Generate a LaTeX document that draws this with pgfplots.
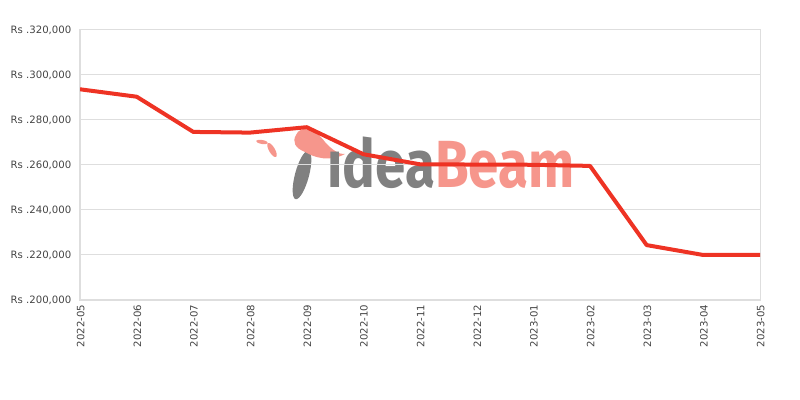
\documentclass[border=0pt]{standalone}
\usepackage{fontspec}
\setmainfont{DejaVu Sans}
\newfontfamily\logofont{Fira Sans}
\usepackage{pgfplots}
\pgfplotsset{compat=1.18}
\definecolor{linered}{RGB}{238,51,36}
\definecolor{gridgray}{RGB}{222,222,222}
\definecolor{txtgray}{RGB}{68,68,68}
\definecolor{logogray}{RGB}{128,128,128}
\definecolor{logopink}{RGB}{246,150,140}
\begin{document}
\begin{tikzpicture}[x=0.75pt,y=0.75pt]
\useasboundingbox (0,0) rectangle (800,400);
% watermark
\fill[logogray, rotate around={-15:(302,225)}] (302,225) ellipse (7 and 25);
\fill[logopink] (296,265) .. controls (300,275) and (315,272) .. (325,258)
   .. controls (332,250) and (340,245) .. (345,246) .. controls (330,238) and (315,242) .. (305,248)
   .. controls (295,252) and (292,258) .. (296,265) -- cycle;
\fill[logopink, rotate around={30:(272,250)}] (272,250) ellipse (3 and 8);
\fill[logopink, rotate around={80:(262,258)}] (262,258) ellipse (2 and 6);
\node[anchor=base west, inner sep=0pt, xscale=0.82] at (327,212)
  {\fontsize{50pt}{50pt}\selectfont\logofont\bfseries\textcolor{logogray}{\i dea}\textcolor{logopink}{Beam}};
\begin{axis}[
  at={(60pt,75pt)}, anchor=south west,
  scale only axis, width=510pt, height=202.5pt,
  xmin=0, xmax=12, ymin=200000, ymax=320000,
  xtick={0,...,12},
  xticklabels={2022-05,2022-06,2022-07,2022-08,2022-09,2022-10,2022-11,2022-12,2023-01,2023-02,2023-03,2023-04,2023-05},
  ytick={200000,220000,240000,260000,280000,300000,320000},
  yticklabels={{Rs .200,000},{Rs .220,000},{Rs .240,000},{Rs .260,000},{Rs .280,000},{Rs .300,000},{Rs .320,000}},
  scaled y ticks=false,
  major tick length=0pt,
  ymajorgrids, grid style={gridgray, line width=0.75pt},
  axis line style={gridgray, line width=0.75pt},
  tick label style={font=\fontsize{7.6pt}{9pt}\selectfont, text=txtgray},
  yticklabel style={xshift=-3pt},
  xticklabel style={rotate=90, anchor=east, xshift=0pt, yshift=-0.5pt},
]
\addplot[linered, line width=3pt, line join=round] coordinates {
(0,293650) (1,290350) (2,274700) (3,274400) (4,276800) (5,264800)
(6,260300) (7,260200) (8,260100) (9,259600) (10,224400) (11,220000) (12,220000)};
\end{axis}
\end{tikzpicture}
\end{document}
